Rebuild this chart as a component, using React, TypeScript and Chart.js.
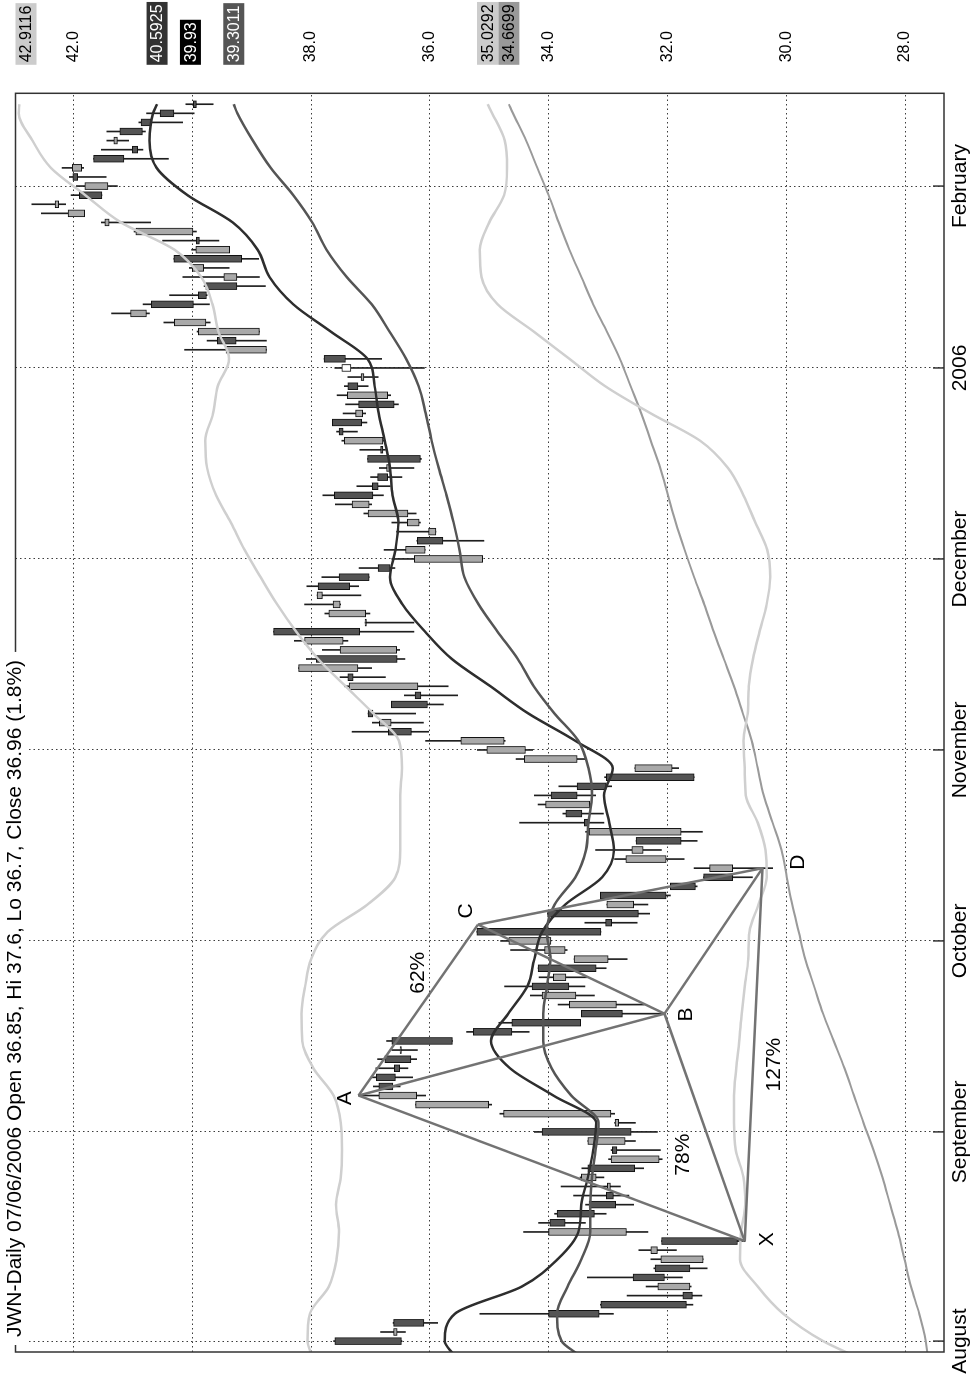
import React, { useEffect, useRef } from 'react';
import { Chart, registerables } from 'chart.js';

Chart.register(...registerables);

const TITLE = 'JWN-Daily 07/06/2006 Open 36.85, Hi 37.6, Lo 36.7, Close 36.96 (1.8%)';

// trading-day index of the first session of each month
const MONTH_IDX = [0, 23, 44, 65, 86, 107, 127];
const MONTH_LABELS = ['August', 'September', 'October', 'November', 'December', '2006', 'February'];
const PRICE_TICKS = [28, 30, 32, 34, 36, 38, 40, 42];

const OPEN = [
  37.60, 36.55, 36.61, 34.00, 33.12, 31.74, 31.62, 32.58, 32.21, 31.40,
  32.17, 32.10, 32.69, 33.98, 33.86, 33.32, 33.03, 32.96, 33.20, 33.34,
  32.14, 32.93, 32.71, 34.11, 32.82, 32.95, 35.01, 36.22, 36.86, 36.90,
  36.60, 36.76, 36.50, 36.64, 35.27, 34.62, 33.45, 32.86, 33.54, 34.28,
  33.71, 34.18, 33.00, 33.72, 33.96, 35.21, 33.04, 34.02, 32.57, 33.13,
  31.95, 31.39, 30.90, 32.02, 32.41, 32.53, 31.77, 33.40, 33.71, 33.31,
  33.96, 33.52, 33.03, 31.92, 33.52, 34.39, 34.75, 36.70, 36.65, 37.04,
  36.65, 36.25, 36.20, 37.38, 37.21, 37.91, 36.56, 37.46, 38.63, 37.09,
  37.08, 37.51, 37.81, 37.88, 37.53, 36.87, 35.11, 36.08, 36.21, 35.90,
  36.18, 36.37, 37.02, 37.61, 36.97, 36.88, 36.68, 37.05, 36.83, 36.79,
  37.53, 37.64, 37.13, 37.20, 36.71, 37.38, 37.11, 37.33, 37.78, 38.75,
  39.58, 38.87, 39.77, 40.77, 40.69, 39.90, 39.77, 39.25, 39.81, 40.31,
  39.37, 39.93, 39.99, 41.40, 41.81, 42.25, 41.90, 41.42, 42.01, 41.86,
  41.66, 41.01, 41.26, 41.22, 40.86, 40.54, 39.98,
];
const HIGH = [
  37.62, 36.83, 36.62, 35.16, 33.13, 32.68, 32.36, 33.35, 32.23, 32.28,
  32.48, 32.10, 34.42, 34.17, 33.90, 33.38, 33.58, 33.79, 33.47, 33.44,
  32.99, 32.95, 33.34, 34.24, 32.89, 34.82, 36.24, 37.20, 36.95, 36.99,
  36.91, 36.88, 36.64, 36.73, 35.38, 34.84, 33.45, 33.84, 34.31, 34.74,
  34.16, 34.18, 33.57, 34.64, 34.81, 35.21, 33.39, 34.02, 33.02, 33.13,
  31.95, 31.39, 31.55, 32.89, 33.21, 32.53, 33.38, 34.49, 33.76, 34.18,
  34.24, 33.83, 33.06, 32.55, 34.55, 35.20, 36.07, 37.31, 36.97, 37.04,
  36.65, 36.43, 37.44, 37.51, 38.21, 38.08, 37.81, 38.28, 38.63, 37.09,
  37.77, 38.11, 37.90, 38.07, 37.82, 37.19, 36.64, 36.77, 36.22, 36.56,
  36.64, 37.11, 37.59, 37.80, 37.23, 37.00, 36.85, 37.05, 37.18, 37.48,
  37.57, 37.64, 37.46, 37.42, 37.56, 37.44, 37.38, 37.60, 37.78, 40.13,
  39.75, 39.92, 40.48, 41.36, 40.83, 40.38, 39.80, 40.16, 40.05, 40.31,
  40.01, 40.50, 40.98, 41.53, 42.54, 42.70, 42.04, 41.95, 42.07, 42.19,
  41.66, 41.53, 41.44, 41.44, 40.90, 40.77, 40.11,
];
const LOW = [
  36.47, 36.41, 35.87, 32.91, 31.57, 31.42, 31.60, 31.75, 31.33, 31.40,
  31.85, 30.69, 32.33, 33.38, 33.03, 32.57, 32.65, 32.79, 33.07, 32.40,
  32.09, 32.12, 32.54, 32.17, 32.54, 32.89, 34.96, 36.07, 36.50, 36.29,
  36.37, 36.22, 36.21, 35.62, 34.33, 33.46, 32.06, 32.39, 33.23, 33.39,
  33.35, 33.03, 32.68, 33.69, 33.96, 33.12, 32.51, 32.30, 32.33, 31.95,
  31.50, 30.57, 30.23, 31.72, 32.10, 31.50, 31.41, 33.07, 33.08, 33.28,
  33.21, 32.94, 31.55, 31.81, 33.38, 34.27, 34.73, 36.02, 36.11, 36.24,
  35.77, 35.53, 35.69, 36.75, 36.98, 36.42, 36.51, 37.38, 36.27, 36.27,
  37.01, 37.50, 37.16, 37.20, 37.02, 36.59, 35.11, 36.08, 35.09, 35.90,
  36.16, 36.23, 36.98, 36.78, 36.67, 36.47, 36.27, 36.14, 36.75, 36.76,
  37.22, 37.06, 37.08, 36.53, 36.66, 37.04, 36.87, 36.09, 36.81, 38.75,
  38.75, 38.87, 39.70, 40.72, 39.71, 39.75, 38.77, 38.87, 39.38, 38.88,
  39.37, 39.55, 39.93, 40.70, 41.81, 42.13, 41.52, 41.26, 41.45, 41.83,
  40.40, 40.83, 41.07, 40.79, 40.16, 39.97, 39.65,
];
const CLOSE = [
  36.48, 36.61, 36.10, 33.15, 31.68, 31.58, 32.16, 32.05, 31.62, 32.11,
  32.28, 30.82, 34.00, 33.72, 33.23, 32.87, 32.91, 33.01, 33.45, 32.55,
  32.95, 32.85, 33.34, 32.61, 32.88, 34.76, 36.24, 36.86, 36.62, 36.58,
  36.51, 36.32, 36.48, 35.62, 34.62, 33.46, 32.76, 33.65, 34.11, 33.66,
  33.92, 33.20, 33.57, 34.07, 34.67, 33.12, 32.94, 32.49, 33.02, 32.02,
  31.53, 30.90, 31.29, 32.70, 32.60, 31.77, 33.32, 33.33, 33.44, 34.05,
  33.52, 33.03, 31.55, 32.55, 34.41, 35.04, 35.48, 36.31, 36.85, 36.96,
  36.04, 36.15, 37.36, 37.29, 38.21, 36.55, 37.51, 38.11, 37.18, 37.07,
  37.70, 37.63, 37.90, 37.35, 37.02, 36.67, 36.26, 36.41, 35.78, 36.02,
  36.38, 37.04, 37.31, 36.96, 36.87, 36.71, 36.73, 36.16, 36.79, 37.44,
  37.46, 37.15, 37.25, 36.60, 37.39, 37.21, 37.16, 37.48, 37.42, 39.43,
  39.26, 39.90, 40.30, 41.04, 39.98, 39.76, 39.25, 39.47, 40.00, 39.17,
  39.94, 39.88, 40.95, 41.47, 42.09, 42.31, 41.52, 41.81, 41.93, 42.02,
  41.15, 40.92, 41.32, 40.84, 40.69, 40.31, 39.93,
];
const HOLLOW = [107];

// indicator samples (trading-day index -> value)
const LINE_IDX = [
  -1.5, 0, 3, 6, 9, 12, 15, 18, 21, 24, 27, 30, 33, 36, 39, 42, 45, 48, 51, 54,
  57, 60, 63, 66, 69, 72, 75, 78, 81, 84, 87, 90, 93, 96, 99, 102, 105, 108, 111, 114,
  117, 120, 123, 126, 129, 132, 135, 136,
];
const FAST_MA = [
  35.60, 35.75, 35.58, 34.45, 33.85, 33.50, 33.45, 33.34, 33.25, 33.20,
  33.92, 34.65, 34.97, 34.68, 34.36, 34.24, 34.11, 33.72, 33.10, 32.90,
  32.98, 33.07, 32.92, 33.55, 34.34, 34.98, 35.63, 36.08, 36.46, 36.67,
  36.58, 36.53, 36.63, 36.67, 36.76, 36.86, 36.93, 37.05, 37.67, 38.30,
  38.70, 38.90, 39.32, 40.08, 40.60, 40.72, 40.66, 40.5925,
];
const MID_MA = [
  33.50, 33.78, 33.86, 33.68, 33.45, 33.30, 33.30, 33.27, 33.21, 33.16,
  33.62, 33.95, 34.09, 34.09, 34.03, 33.97, 34.03, 33.90, 33.55, 33.37,
  33.33, 33.27, 33.33, 33.50, 33.90, 34.25, 34.52, 34.86, 35.18, 35.42,
  35.50, 35.60, 35.72, 35.85, 35.97, 36.07, 36.19, 36.40, 36.68, 36.98,
  37.40, 37.74, 37.98, 38.30, 38.68, 38.98, 39.24, 39.3011,
];
const UPPER_BAND = [
  37.99, 38.06, 38.02, 37.70, 37.57, 37.53, 37.58, 37.50, 37.48, 37.50,
  37.62, 37.96, 38.15, 38.16, 38.10, 38.00, 37.72, 37.05, 36.58, 36.50,
  36.50, 36.50, 36.47, 36.52, 36.95, 37.42, 37.88, 38.25, 38.57, 38.85,
  39.12, 39.35, 39.60, 39.75, 39.78, 39.65, 39.57, 39.38, 39.56, 39.66,
  39.85, 40.30, 41.20, 41.80, 42.38, 42.69, 42.92, 42.9116,
];
const LOWER_BAND = [
  28.90, 29.38, 30.05, 30.48, 30.78, 30.76, 30.69, 30.72, 30.85, 30.88,
  30.88, 30.84, 30.79, 30.75, 30.70, 30.64, 30.62, 30.47, 30.33, 30.35,
  30.48, 30.68, 30.70, 30.72, 30.65, 30.63, 30.56, 30.45, 30.33, 30.27,
  30.32, 30.52, 30.72, 30.98, 31.45, 32.28, 33.05, 33.65, 34.25, 34.86,
  35.13, 35.16, 35.00, 34.75, 34.70, 34.74, 34.95, 35.0292,
];
const SLOW_MA = [
  27.62, 27.65, 27.76, 27.90, 28.01, 28.12, 28.25, 28.38, 28.53, 28.70,
  28.86, 29.02, 29.20, 29.38, 29.53, 29.68, 29.79, 29.90, 29.99, 30.08,
  30.23, 30.38, 30.48, 30.58, 30.73, 30.88, 31.05, 31.22, 31.38, 31.55,
  31.71, 31.86, 31.99, 32.12, 32.28, 32.44, 32.62, 32.80, 33.02, 33.25,
  33.45, 33.65, 33.83, 34.00, 34.19, 34.38, 34.60, 34.6699,
];

// XABCD pattern
const PATTERN_NAMES = ['X', 'A', 'B', 'C', 'D'];
const PATTERN_IDX = [11, 27, 36, 45.8, 52];
const PATTERN_PRICE = [30.70, 37.20, 32.05, 35.19, 30.40];
const PATTERN_SEGMENTS = [[0, 1], [1, 2], [2, 3], [3, 4], [0, 2], [1, 3], [2, 4], [0, 4]];
const PATTERN_LABEL_IDX = [11.2, 26.7, 35.9, 47.3, 52.65];
const PATTERN_LABEL_PRICE = [30.32, 37.43, 31.69, 35.38, 29.80];
const RATIO_TEXT = ['62%', '78%', '127%'];
const RATIO_IDX = [40.5, 20.5, 30.4];
const RATIO_PRICE = [36.20, 31.74, 30.21];

const FONT = '"Liberation Sans", Arial, Helvetica, sans-serif';
const DARK = '#545454';
const LIGHT = '#a9a9a9';

export default function App() {
  const ref = useRef<HTMLCanvasElement>(null);

  useEffect(() => {
    const canvas = ref.current;
    if (!canvas) return;
    Chart.defaults.font.family = FONT;

    const idx = OPEN.map((_, i) => i);
    const bodyColors = idx.map((i) =>
      HOLLOW.includes(i) ? '#ffffff' : CLOSE[i] >= OPEN[i] ? LIGHT : DARK
    );
    const series = (vals: number[]) => vals.map((v, i) => ({ x: LINE_IDX[i], y: v }));
    const lineDs = (vals: number[], color: string, width: number) => ({
      type: 'line' as const,
      data: series(vals),
      borderColor: color,
      borderWidth: width,
      pointRadius: 0,
      cubicInterpolationMode: 'monotone' as const,
      fill: false,
      order: 5,
      clip: 0,
    });

    const tags = [
      { v: UPPER_BAND[UPPER_BAND.length - 1], bg: '#cccccc', fg: '#000000', shift: 0 },
      { v: FAST_MA[FAST_MA.length - 1], bg: '#333333', fg: '#ffffff', shift: 0 },
      { v: CLOSE[CLOSE.length - 1], bg: '#000000', fg: '#ffffff', shift: -6 },
      { v: MID_MA[MID_MA.length - 1], bg: '#555555', fg: '#ffffff', shift: 0 },
      { v: LOWER_BAND[LOWER_BAND.length - 1], bg: '#cccccc', fg: '#000000', shift: 0 },
      { v: SLOW_MA[SLOW_MA.length - 1], bg: '#999999', fg: '#000000', shift: 0 },
    ];
    const AXIS_FONT = 16;
    const AXIS_GAP = 31;

    const decor = {
      id: 'decor',
      afterDatasetsDraw(chart: any) {
        const { ctx, scales } = chart;
        const xs = scales.x;
        const ys = scales.y;
        ctx.save();
        ctx.fillStyle = '#000';
        ctx.font = `21px ${FONT}`;
        ctx.textAlign = 'center';
        ctx.textBaseline = 'middle';
        PATTERN_NAMES.forEach((n, i) => {
          ctx.fillText(n, xs.getPixelForValue(PATTERN_LABEL_IDX[i]), ys.getPixelForValue(PATTERN_LABEL_PRICE[i]));
        });
        RATIO_TEXT.forEach((t, i) => {
          ctx.fillText(t, xs.getPixelForValue(RATIO_IDX[i]), ys.getPixelForValue(RATIO_PRICE[i]));
        });
        ctx.restore();
      },
      afterDraw(chart: any) {
        const { ctx, chartArea, scales } = chart;
        const { left, right, top, bottom } = chartArea;
        const xs = scales.x;
        const ys = scales.y;
        ctx.save();
        // frame
        ctx.strokeStyle = '#333';
        ctx.lineWidth = 1.5;
        ctx.strokeRect(left, top, right - left, bottom - top);
        // inner month ticks
        MONTH_IDX.forEach((m) => {
          const x = xs.getPixelForValue(m);
          ctx.beginPath();
          ctx.moveTo(x, bottom);
          ctx.lineTo(x, bottom - 11);
          ctx.stroke();
        });
        // title on the frame
        ctx.font = `21px ${FONT}`;
        const tw = ctx.measureText(TITLE).width;
        ctx.fillStyle = '#fff';
        ctx.fillRect(left + 7, top - 12, tw + 16, 24);
        ctx.fillStyle = '#000';
        ctx.textAlign = 'left';
        ctx.textBaseline = 'alphabetic';
        ctx.fillText(TITLE, left + 15, top + 5.5);
        // last-value tags
        ctx.font = `${AXIS_FONT}px ${FONT}`;
        ctx.textBaseline = 'middle';
        tags.forEach((t) => {
          const txt = String(t.v);
          const w = ctx.measureText(txt).width + 5;
          const h = 21;
          let y0 = ys.getPixelForValue(t.v) - h / 2 + t.shift;
          if (y0 < top) y0 = top;
          const x0 = right + AXIS_GAP - 2.5;
          ctx.fillStyle = t.bg;
          ctx.fillRect(x0, y0, w, h);
          ctx.fillStyle = t.fg;
          ctx.fillText(txt, x0 + 2.5, y0 + h / 2 + 1);
        });
        ctx.restore();
      },
    };

    const xGrid = { color: '#3c3c3c', lineWidth: 1, drawTicks: false, offset: false };
    const yGrid = {
      color: '#3c3c3c',
      lineWidth: 1,
      drawTicks: true,
      tickLength: AXIS_GAP,
      tickColor: 'rgba(0,0,0,0)',
      offset: false,
    };
    const borderCommon = { display: false, dash: [1.5, 3] };

    const chart = new Chart(canvas, {
      type: 'bar',
      data: {
        datasets: [
          {
            type: 'bar',
            data: idx.map((i) => ({ x: i, y: [LOW[i], HIGH[i]] })),
            backgroundColor: '#1e1e1e',
            borderWidth: 0,
            barThickness: 1,
            grouped: false,
            order: 10,
          } as any,
          {
            type: 'bar',
            data: idx.map((i) => ({ x: i, y: [OPEN[i], CLOSE[i]] })),
            backgroundColor: bodyColors,
            borderColor: '#111',
            borderWidth: 1,
            borderSkipped: false,
            barThickness: 7,
            grouped: false,
            order: 9,
          } as any,
          lineDs(UPPER_BAND, '#cfcfcf', 2.5),
          lineDs(LOWER_BAND, '#cfcfcf', 2.5),
          lineDs(SLOW_MA, '#9a9a9a', 2),
          lineDs(MID_MA, '#555555', 2.5),
          lineDs(FAST_MA, '#2e2e2e', 2.5),
          ...PATTERN_SEGMENTS.map(([a, b]) => ({
            type: 'line' as const,
            data: [
              { x: PATTERN_IDX[a], y: PATTERN_PRICE[a] },
              { x: PATTERN_IDX[b], y: PATTERN_PRICE[b] },
            ],
            borderColor: '#737373',
            borderWidth: 2.5,
            pointRadius: 0,
            tension: 0,
            fill: false,
            order: 1,
          })),
        ] as any,
      },
      options: {
        responsive: false,
        animation: false,
        devicePixelRatio: 1,
        events: [],
        layout: { padding: { left: 31, top: 15.5, right: 0, bottom: 0 } },
        plugins: {
          legend: { display: false },
          tooltip: { enabled: false },
          title: { display: false },
        },
        scales: {
          x: {
            type: 'linear',
            position: 'bottom',
            min: -1.2,
            max: 137.2,
            offset: false,
            afterBuildTicks: (s: any) => {
              s.ticks = MONTH_IDX.map((v) => ({ value: v }));
            },
            afterFit: (s: any) => {
              s.height = 30;
            },
            ticks: {
              autoSkip: false,
              maxRotation: 0,
              minRotation: 0,
              padding: 4,
              color: '#000',
              font: { size: 21, family: FONT },
              callback: (v: any) => {
                const k = MONTH_IDX.indexOf(Number(v));
                return k >= 0 ? MONTH_LABELS[k] : '';
              },
            },
            grid: xGrid,
            border: borderCommon,
          },
          y: {
            type: 'linear',
            position: 'right',
            min: 27.344,
            max: 42.976,
            afterBuildTicks: (s: any) => {
              s.ticks = PRICE_TICKS.map((v) => ({ value: v }));
            },
            afterFit: (s: any) => {
              s.width = 93.3;
            },
            ticks: {
              padding: 0,
              color: '#000',
              font: { size: AXIS_FONT, family: FONT },
              callback: (v: any) => Number(v).toFixed(1),
            },
            grid: yGrid,
            border: borderCommon,
          },
        } as any,
      },
      plugins: [decor],
    });

    return () => chart.destroy();
  }, []);

  return (
    <div
      style={{
        position: 'absolute',
        left: 0,
        top: 0,
        width: 974,
        height: 1383,
        overflow: 'hidden',
        background: '#fff',
      }}
    >
      <div
        style={{
          position: 'absolute',
          left: 0,
          top: 0,
          width: 1383,
          height: 974,
          transformOrigin: '0 0',
          transform: 'translate(0px, 1383px) rotate(-90deg)',
        }}
      >
        <canvas ref={ref} width={1383} height={974} style={{ display: 'block', width: 1383, height: 974 }} />
      </div>
    </div>
  );
}
